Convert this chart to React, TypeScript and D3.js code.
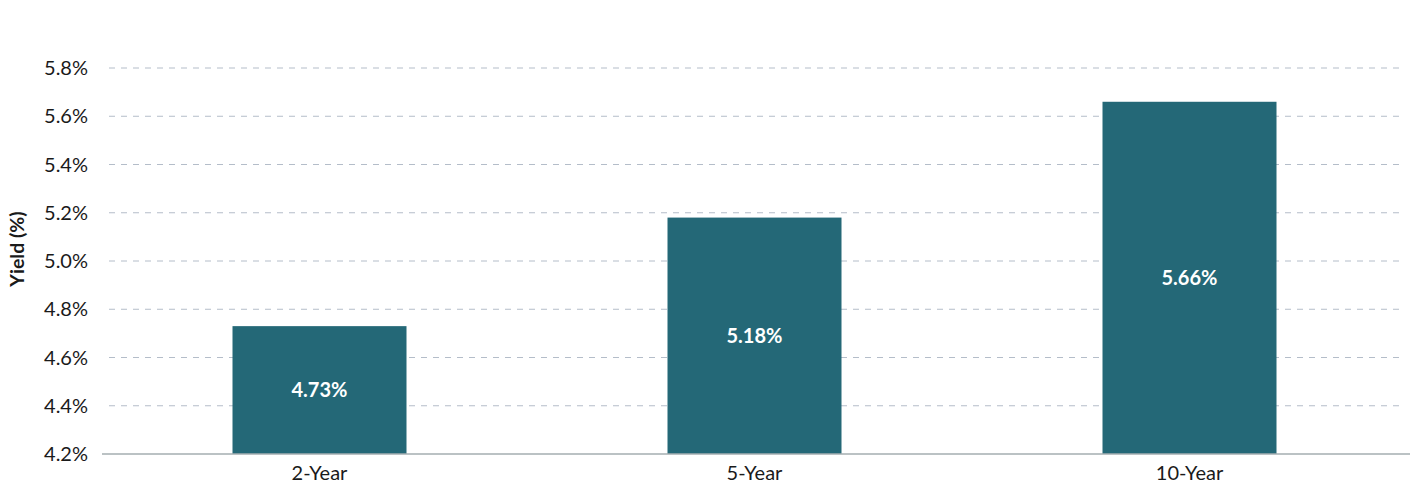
import { useEffect, useRef } from "react"
import * as d3 from "d3"

const categories = ["2-Year", "5-Year", "10-Year"]
const yields = [4.73, 5.18, 5.66]
const yTicks = [4.2, 4.4, 4.6, 4.8, 5.0, 5.2, 5.4, 5.6, 5.8]

const WIDTH = 1425
const HEIGHT = 503
const MARGIN = { top: 68, right: 18, bottom: 49, left: 102 }
const BAR_COLOR = "#246877"
const FONT = "Lato, 'Noto Sans', sans-serif"

export default function App() {
  const svgRef = useRef<SVGSVGElement>(null)

  useEffect(() => {
    if (!svgRef.current) return
    const svg = d3.select(svgRef.current)
    svg.selectAll("*").remove()

    const w = WIDTH - MARGIN.left - MARGIN.right
    const h = HEIGHT - MARGIN.top - MARGIN.bottom

    const g = svg.append("g").attr("transform", `translate(${MARGIN.left},${MARGIN.top})`)

    const x = d3.scaleBand<string>().domain(categories).range([0, w]).paddingInner(0.6).paddingOuter(0.3)
    const y = d3.scaleLinear().domain([4.2, 5.8]).range([h, 0])

    // gridlines
    g.append("g")
      .selectAll("line")
      .data(yTicks.slice(1))
      .join("line")
      .attr("x1", 7)
      .attr("x2", w - 5)
      .attr("y1", (d) => y(d))
      .attr("y2", (d) => y(d))
      .attr("stroke", "#b4bdc9")
      .attr("stroke-width", 1)
      .attr("stroke-dasharray", "6,6")

    // y tick labels
    g.append("g")
      .selectAll("text")
      .data(yTicks)
      .join("text")
      .attr("x", -14)
      .attr("y", (d) => y(d))
      .attr("dy", "0.35em")
      .attr("text-anchor", "end")
      .attr("font-family", FONT)
      .attr("font-size", "20px")
      .attr("fill", "#1a1a1a")
      .text((d) => `${d.toFixed(1)}%`)

    // bars
    g.append("g")
      .selectAll("rect")
      .data(yields)
      .join("rect")
      .attr("x", (_, i) => x(categories[i])!)
      .attr("width", x.bandwidth())
      .attr("y", (d) => y(d))
      .attr("height", (d) => h - y(d))
      .attr("fill", BAR_COLOR)

    // bar value labels
    g.append("g")
      .selectAll("text")
      .data(yields)
      .join("text")
      .attr("x", (_, i) => x(categories[i])! + x.bandwidth() / 2)
      .attr("y", (d) => (y(d) + h) / 2)
      .attr("dy", "0.35em")
      .attr("text-anchor", "middle")
      .attr("font-family", FONT)
      .attr("font-size", "20px")
      .attr("font-weight", "bold")
      .attr("fill", "#ffffff")
      .text((d) => `${d.toFixed(2)}%`)

    // baseline
    g.append("line")
      .attr("x1", 0)
      .attr("x2", w + 3)
      .attr("y1", h)
      .attr("y2", h)
      .attr("stroke", "#a5aeb1")
      .attr("stroke-width", 1.5)

    // category labels
    g.append("g")
      .selectAll("text")
      .data(categories)
      .join("text")
      .attr("x", (d) => x(d)! + x.bandwidth() / 2)
      .attr("y", h + 26)
      .attr("text-anchor", "middle")
      .attr("font-family", FONT)
      .attr("font-size", "20px")
      .attr("fill", "#1a1a1a")
      .text((d) => d)

    // y axis title
    svg.append("text")
      .attr("transform", `translate(24,${249}) rotate(-90)`)
      .attr("text-anchor", "middle")
      .attr("font-family", FONT)
      .attr("font-size", "19.5px")
      .attr("font-weight", "bold")
      .attr("fill", "#1a1a1a")
      .text("Yield (%)")
  }, [])

  return (
    <svg
      ref={svgRef}
      width={WIDTH}
      height={HEIGHT}
      style={{ position: "absolute", top: 0, left: 0, background: "#ffffff" }}
    />
  )
}
